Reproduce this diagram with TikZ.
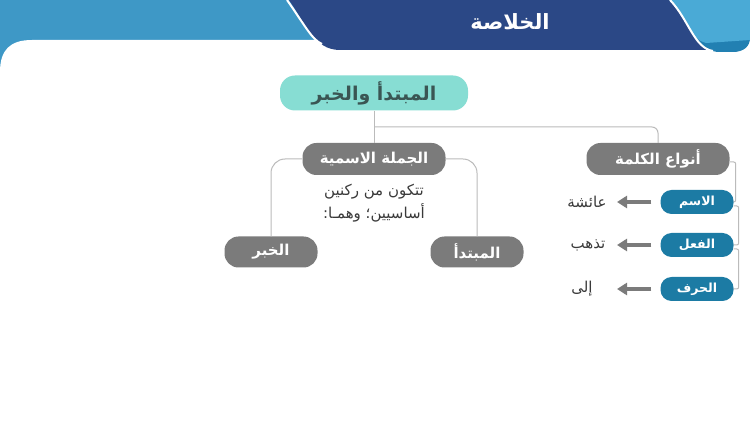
\documentclass[tikz,border=0pt]{standalone}
\usepackage{fontspec}
\usepackage{tikz}
\usetikzlibrary{arrows.meta}
\TeXXeTstate=1
\newfontfamily\arabicfont[Script=Arabic]{DejaVu Sans}
\definecolor{hdrblue}{HTML}{3E98C6}
\definecolor{hdrlight}{HTML}{4AAAD6}
\definecolor{hdrdeep}{HTML}{2280B2}
\definecolor{navyband}{HTML}{2B4886}
\definecolor{tealbox}{HTML}{87DDD3}
\definecolor{tealtext}{HTML}{3A5553}
\definecolor{graybox}{HTML}{7B7B7B}
\definecolor{bluebox}{HTML}{1C7BA4}
\definecolor{linkgray}{HTML}{BBBBBB}
\definecolor{wordgray}{HTML}{3A3A3A}
\tikzset{
  mainbox/.style={fill=tealbox, text=tealtext, rounded corners=15pt, minimum width=188pt, minimum height=35pt, font=\arabicfont\bfseries\fontsize{19}{22}\selectfont},
  graybox/.style={fill=graybox, text=white, rounded corners=14pt, minimum width=143pt, minimum height=32pt, font=\arabicfont\bfseries\fontsize{15}{18}\selectfont},
  smallbox/.style={fill=graybox, text=white, rounded corners=14pt, minimum width=93pt, minimum height=31pt, font=\arabicfont\bfseries\fontsize{15}{18}\selectfont},
  typebox/.style={fill=bluebox, text=white, rounded corners=11pt, minimum width=73pt, minimum height=24pt, font=\arabicfont\bfseries\fontsize{12.5}{14}\selectfont},
  word/.style={text=wordgray, font=\arabicfont\fontsize{15}{18}\selectfont},
  link/.style={draw=linkgray, line width=1pt},
  pointer/.style={draw=graybox, line width=3.5pt, -{Triangle[width=12pt,length=10pt]}}
}
\begin{document}
\begin{tikzpicture}[x=1pt,y=-1pt]
\useasboundingbox (0,0) rectangle (750,430);
\fill[hdrblue] (0,0) rectangle (750,80);
\fill[white] (0,430) -- (0,72) .. controls (0,50) and (10,40) .. (32,40) -- (750,40) -- (750,430) -- cycle;
\fill[hdrdeep] (668,0) .. controls (690,30) and (698,52) .. (720,52) -- (733,52) .. controls (744,52) and (750,46) .. (750,38) -- (750,0) -- cycle;
\fill[hdrlight] (668,0) .. controls (686,22) and (692,40) .. (706,43) -- (750,40) -- (750,0) -- cycle;
\fill[navyband] (289,0) .. controls (306,24) and (314,50) .. (340,50) -- (712,50) .. controls (692,48) and (688,18) .. (669,0) -- cycle;
\draw[white, line width=2pt] (287,0) .. controls (304,24) and (312,40) .. (322,44);
\draw[white, line width=2pt] (670,0) .. controls (689,20) and (694,48) .. (713,51);
\node[text=white, font=\arabicfont\bfseries\fontsize{21}{24}\selectfont] (title) at (510,22) {\beginR الخلاصة\endR};

\node[mainbox] (main) at (374,93) {\beginR المبتدأ والخبر\endR};
\node[graybox] (jumla) at (374,159) {\beginR الجملة الاسمية\endR};
\node[graybox] (anwa) at (658,159) {\beginR أنواع الكلمة\endR};
\node[smallbox] (khabar) at (271,252) {\beginR الخبر\endR};
\node[smallbox] (mubtada) at (477,252) {\beginR المبتدأ\endR};
\node[text=wordgray, align=center, font=\arabicfont\fontsize{15}{23}\selectfont] (rule) at (374,203) {\beginR تتكون من ركنين\endR\\\beginR أساسيين؛ وهمـا:\endR};

\node[typebox] (ism) at (697,202) {\beginR الاسم\endR};
\node[typebox] (fiel) at (697,245) {\beginR الفعل\endR};
\node[typebox] (harf) at (697,289) {\beginR الحرف\endR};
\node[word] (aisha) at (587,202) {\beginR عائشة\endR};
\node[word] (tadhhab) at (588,245) {\beginR تذهب\endR};
\node[word] (ila) at (582,289) {\beginR إلى\endR};

\coordinate (fork) at (374,127);
\draw[link] (main) -- (jumla);
\draw[link, rounded corners=6pt] (fork) -| (anwa);
\draw[link, rounded corners=14pt] (jumla.west) -| (khabar.north);
\draw[link, rounded corners=14pt] (jumla.east) -| (mubtada.north);
\draw[link, rounded corners=2pt] ([yshift=-3pt]anwa.east) -- ++(6,0) |- (ism.east);
\draw[link, rounded corners=2pt] ([yshift=-4pt]ism.east) -- ++(5,0) |- (fiel.east);
\draw[link, rounded corners=2pt] ([yshift=-4pt]fiel.east) -- ++(5,0) |- (harf.east);

\coordinate (tip1) at (617,202);
\coordinate (tip2) at (617,245);
\coordinate (tip3) at (617,289);
\draw[pointer] ([xshift=-9pt]ism.west) -- (tip1);
\draw[pointer] ([xshift=-9pt]fiel.west) -- (tip2);
\draw[pointer] ([xshift=-9pt]harf.west) -- (tip3);
\end{tikzpicture}
\end{document}
